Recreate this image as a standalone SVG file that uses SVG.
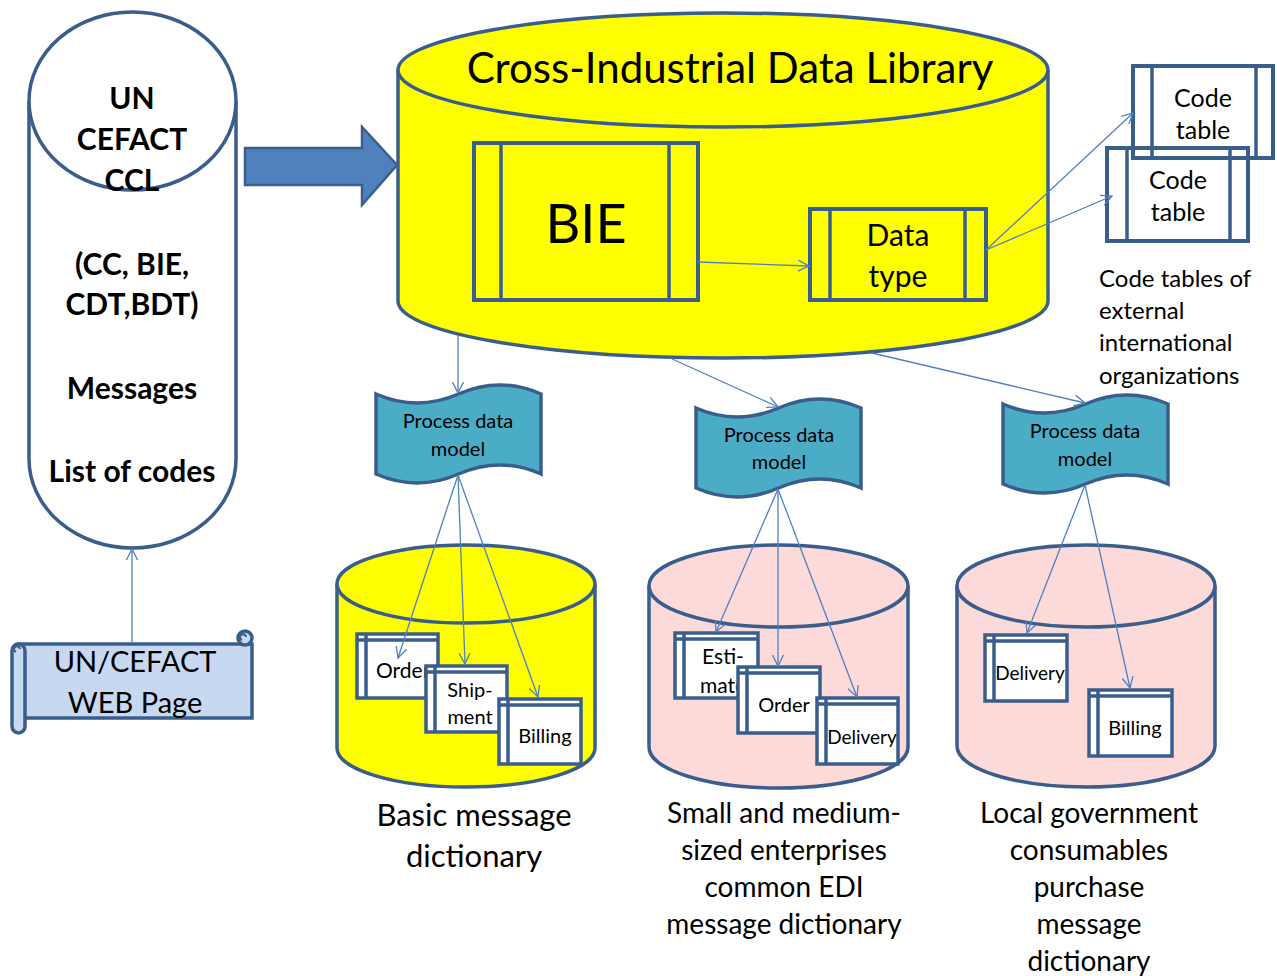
<svg xmlns="http://www.w3.org/2000/svg" width="1277" height="976" viewBox="0 0 1277 976">
<defs>
<style>
text{font-family:Lato,"Open Sans","Liberation Sans",sans-serif;fill:#000;text-anchor:middle}
.b{font-weight:bold}
.shp{stroke:#3A5E8C;stroke-width:3.5}
.box{fill:none;stroke:#3A5E8C;stroke-width:4}
.sb{fill:#fff;stroke:#3A5E8C;stroke-width:3.5}
.ln{fill:none;stroke:#3A5E8C;stroke-width:3.5}
.con{fill:none;stroke:#4F81BD;stroke-width:1.3;marker-end:url(#ah)}
.pdm{fill:#4BACC6;stroke:#3A5E8C;stroke-width:3.5}
</style>
<marker id="ah" viewBox="0 0 12 12" refX="11" refY="6" markerWidth="12" markerHeight="12" markerUnits="userSpaceOnUse" orient="auto">
<path d="M0,0.5 L11,6 L0,11.5" fill="none" stroke="#4F81BD" stroke-width="1.3"/>
</marker>
</defs>
<rect width="1277" height="976" fill="#fff"/>

<g id="ccl">
<path class="shp" fill="#fff" d="M29,101 L29,459 A103.5,89 0 0 0 236,459 L236,101"/>
<ellipse class="shp" fill="#fff" cx="132.5" cy="101" rx="103.5" ry="89"/>
<g class="b" font-size="30">
<text x="132" y="109">UN</text>
<text x="132" y="150">CEFACT</text>
<text x="132" y="191">CCL</text>
<text x="132" y="275">(CC, BIE,</text>
<text x="132" y="315">CDT,BDT)</text>
<text x="132" y="399">Messages</text>
<text x="132" y="482">List of codes</text>
</g>
</g>

<g id="bigarrow">
<path d="M245,148 L362,148 L362,127 L397,165 L362,205 L362,185 L245,185 Z" fill="#4F81BD" stroke="#3A5E8C" stroke-width="2.5"/>
</g>

<g id="cidl">
<path class="shp" fill="#FFFF00" d="M398,70 L398,301 A325,57 0 0 0 1048,301 L1048,70"/>
<ellipse class="shp" fill="#FFFF00" cx="723" cy="70" rx="325" ry="57"/>
<text x="730" y="83" font-size="42">Cross-Industrial Data Library</text>
</g>

<g id="bie">
<rect class="box" x="474" y="143" width="224" height="157"/>
<path class="ln" d="M501,143 V300 M669,143 V300"/>
<text x="586" y="243" font-size="54">BIE</text>
</g>

<g id="datatype">
<rect class="box" x="810" y="209" width="176" height="91"/>
<path class="ln" d="M830,209 V300 M965,209 V300"/>
<text x="898" y="246" font-size="30">Data</text>
<text x="898" y="287" font-size="30">type</text>
</g>

<g id="codetable1">
<rect class="box" x="1133" y="66" width="140" height="92"/>
<path class="ln" d="M1152,66 V158 M1256,66 V158"/>
<text x="1203" y="107" font-size="25">Code</text>
<text x="1203" y="139" font-size="25">table</text>
</g>
<g id="codetable2">
<rect class="box" x="1107" y="148" width="141" height="93"/>
<path class="ln" d="M1127,148 V241 M1230,148 V241"/>
<text x="1178" y="189" font-size="25">Code</text>
<text x="1178" y="221" font-size="25">table</text>
</g>
<g id="codenote" font-size="24">
<text x="1099" y="287" style="text-anchor:start">Code tables of</text>
<text x="1099" y="319" style="text-anchor:start">external</text>
<text x="1099" y="351" style="text-anchor:start">international</text>
<text x="1099" y="384" style="text-anchor:start">organizations</text>
</g>

<g id="webpage">
<rect x="19" y="644" width="233" height="74" fill="#C6D9F1" stroke="#3A5E8C" stroke-width="3.5"/>
<circle cx="245" cy="638" r="7" fill="#C6D9F1" stroke="#3A5E8C" stroke-width="3.5"/>
<path d="M242,640 a3,3 0 1 1 4,-3" fill="none" stroke="#3A5E8C" stroke-width="2"/>
<rect x="12" y="644" width="13" height="89" rx="6.5" fill="#C6D9F1" stroke="#3A5E8C" stroke-width="3.5"/>
<path d="M16,652 a3,3 0 1 1 4,-3" fill="none" stroke="#3A5E8C" stroke-width="2"/>
<text x="135" y="672" font-size="29">UN/CEFACT</text>
<text x="135" y="713" font-size="29">WEB Page</text>
</g>

<g id="pdm1">
<path class="pdm" d="M376,394 Q417,412 458.5,394 Q500,376 541,394 L541,474 Q500,456 458.5,474 Q417,492 376,474 Z"/>
<text x="458" y="428" font-size="20">Process data</text>
<text x="458" y="456" font-size="20">model</text>
</g>
<g id="pdm2">
<path class="pdm" d="M696,408 Q737,426 778.5,408 Q820,390 861,408 L861,488 Q820,470 778.5,488 Q737,506 696,488 Z"/>
<text x="779" y="442" font-size="20">Process data</text>
<text x="779" y="469" font-size="20">model</text>
</g>
<g id="pdm3">
<path class="pdm" d="M1003,404 Q1044,422 1085.5,404 Q1127,386 1168,404 L1168,484 Q1127,466 1085.5,484 Q1044,502 1003,484 Z"/>
<text x="1085" y="438" font-size="20">Process data</text>
<text x="1085" y="466" font-size="20">model</text>
</g>

<g id="basicdb">
<path class="shp" fill="#FFFF00" d="M337,584 L337,748 A129,39 0 0 0 595,748 L595,584"/>
<ellipse class="shp" fill="#FFFF00" cx="466" cy="584" rx="129" ry="39"/>
<g id="b-order">
<rect class="sb" x="357" y="634" width="81" height="64"/>
<path class="ln" d="M366,634 V698 M357,640 H438"/>
<text x="376" y="678" font-size="21" style="text-anchor:start">Order</text>
</g>
<g id="b-ship">
<rect class="sb" x="426" y="666" width="81" height="66"/>
<path class="ln" d="M435,666 V732 M426,672 H507"/>
<text x="470" y="697" font-size="20">Ship-</text>
<text x="470" y="724" font-size="20">ment</text>
</g>
<g id="b-bill">
<rect class="sb" x="499" y="699" width="82" height="65"/>
<path class="ln" d="M508,699 V764 M499,705 H581"/>
<text x="545" y="743" font-size="20">Billing</text>
</g>
</g>

<g id="smedb">
<path class="shp" fill="#FDDADA" d="M649,586 L649,747 A129.5,41 0 0 0 908,747 L908,586"/>
<ellipse class="shp" fill="#FDDADA" cx="778.5" cy="586" rx="129.5" ry="41"/>
<g id="s-est">
<rect class="sb" x="675" y="633" width="83" height="65"/>
<path class="ln" d="M684,633 V698 M675,639 H758"/>
<text x="723" y="664" font-size="21">Esti-</text>
<text x="723" y="693" font-size="21">mate</text>
</g>
<g id="s-order">
<rect class="sb" x="738" y="667" width="82" height="66"/>
<path class="ln" d="M747,667 V733 M738,673 H820"/>
<text x="784" y="712" font-size="20">Order</text>
</g>
<g id="s-del">
<rect class="sb" x="817" y="698" width="81" height="66"/>
<path class="ln" d="M826,698 V764 M817,704 H898"/>
<text x="862" y="744" font-size="19">Delivery</text>
</g>
</g>

<g id="localdb">
<path class="shp" fill="#FDDADA" d="M957,586 L957,746 A129,41 0 0 0 1215,746 L1215,586"/>
<ellipse class="shp" fill="#FDDADA" cx="1086" cy="586" rx="129" ry="41"/>
<g id="l-del">
<rect class="sb" x="985" y="635" width="82" height="66"/>
<path class="ln" d="M994,635 V701 M985,641 H1067"/>
<text x="1030" y="680" font-size="19">Delivery</text>
</g>
<g id="l-bill">
<rect class="sb" x="1089" y="690" width="83" height="66"/>
<path class="ln" d="M1098,690 V756 M1089,696 H1172"/>
<text x="1135" y="735" font-size="20">Billing</text>
</g>
</g>

<g id="labels" font-size="28">
<text x="474" y="826" font-size="31">Basic message</text>
<text x="474" y="867" font-size="31">dictionary</text>
<text x="784" y="823">Small and medium-</text>
<text x="784" y="860">sized enterprises</text>
<text x="784" y="897">common EDI</text>
<text x="784" y="934">message dictionary</text>
<text x="1089" y="823">Local government</text>
<text x="1089" y="860">consumables</text>
<text x="1089" y="897">purchase</text>
<text x="1089" y="934">message</text>
<text x="1089" y="971">dictionary</text>
</g>

<g id="connectors">
<path class="con" d="M132,643 L132,549"/>
<path class="con" d="M698,262 L809,266"/>
<path class="con" d="M986,250 L1133,113"/>
<path class="con" d="M986,250 L1112,196"/>
<path class="con" d="M458,335 L458,393"/>
<path class="con" d="M670,358 L778,407"/>
<path class="con" d="M872,353 L1085,403"/>
<path class="con" d="M458,475 L398,658"/>
<path class="con" d="M458,475 L465,664"/>
<path class="con" d="M458,475 L538,697"/>
<path class="con" d="M778,489 L716,632"/>
<path class="con" d="M778,489 L778,666"/>
<path class="con" d="M778,489 L857,697"/>
<path class="con" d="M1085,485 L1027,633"/>
<path class="con" d="M1085,485 L1130,688"/>
</g>
</svg>
